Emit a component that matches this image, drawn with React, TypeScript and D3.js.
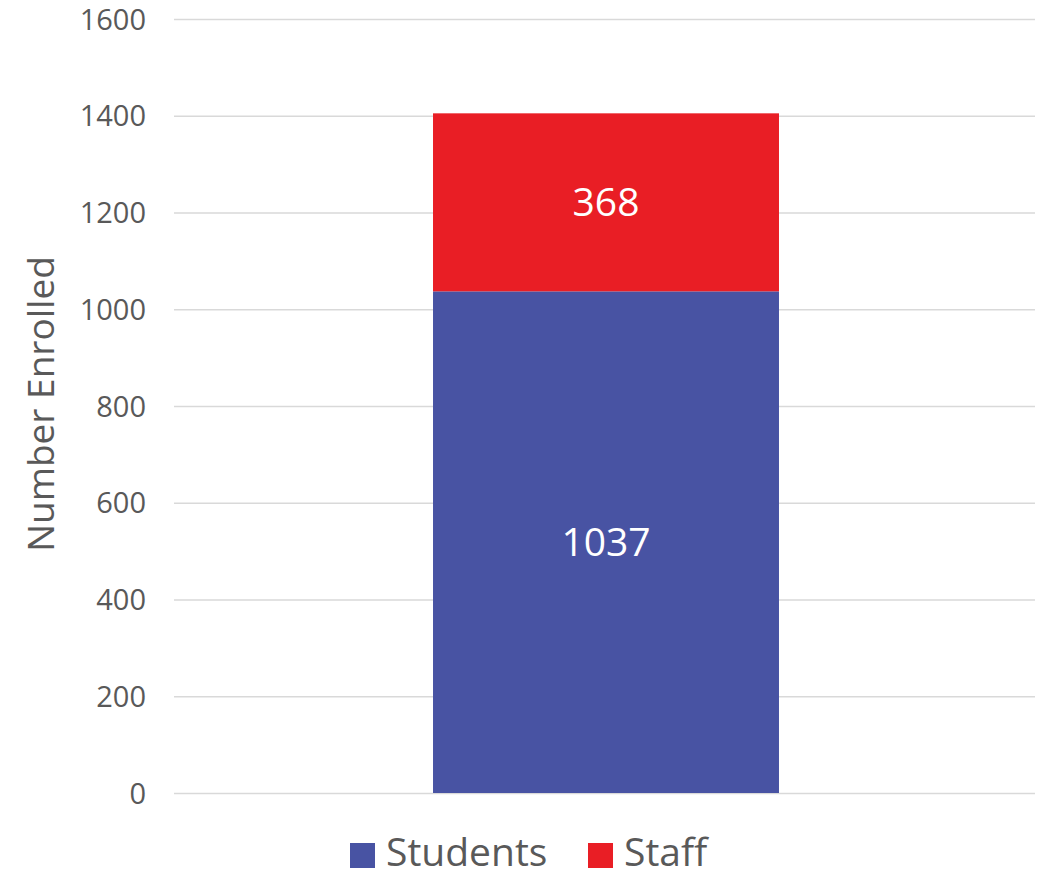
import { useEffect, useRef } from 'react';
import * as d3 from 'd3';

const categories = ['Total'];
const seriesNames = ['Students', 'Staff'];
const studentValues = [1037];
const staffValues = [368];
const seriesColors = ['#4853A3', '#E91E25'];
const yTicks = [0, 200, 400, 600, 800, 1000, 1200, 1400, 1600];
const axisTitle = 'Number Enrolled';

const W = 1046;
const H = 877;
const FONT = '"Open Sans", "Liberation Sans", sans-serif';

export default function App() {
  const ref = useRef<SVGSVGElement>(null);

  useEffect(() => {
    const svg = d3.select(ref.current);
    svg.selectAll('*').remove();

    const margin = { top: 19, right: 11, bottom: 84, left: 174 };
    const width = W - margin.left - margin.right;
    const height = H - margin.top - margin.bottom;

    const g = svg.append('g').attr('transform', `translate(${margin.left},${margin.top})`);

    const x = d3.scaleBand().domain(categories).range([3, width]).paddingInner(0).paddingOuter(0.74);
    const y = d3.scaleLinear().domain([0, 1600]).range([height, 0]);

    // gridlines
    g.append('g')
      .call(d3.axisLeft(y).tickValues(yTicks).tickSize(-width).tickFormat(() => ''))
      .call(a => a.select('.domain').remove())
      .call(a => a.selectAll('.tick line').attr('stroke', '#d9d9d9').attr('stroke-width', 1.5));

    // tick labels
    g.append('g')
      .attr('transform', 'translate(-28,0)')
      .call(d3.axisLeft(y).tickValues(yTicks).tickSize(0).tickPadding(0).tickFormat(d3.format('d')))
      .call(a => a.select('.domain').remove())
      .selectAll('text')
      .style('fill', '#595959').style('font-size', '29px').style('font-family', FONT)
      .attr('dy', '0.35em');

    const stackData = categories.map((c, i) => ({ cat: c, Students: studentValues[i], Staff: staffValues[i] }));
    const stack = d3.stack<any>().keys(seriesNames)(stackData);

    stack.forEach((layer, li) => {
      g.selectAll(`.bar-${li}`).data(layer).enter().append('rect')
        .attr('x', d => x(d.data.cat)!)
        .attr('width', x.bandwidth())
        .attr('y', d => y(d[1]))
        .attr('height', d => y(d[0]) - y(d[1]))
        .attr('fill', seriesColors[li]);

      g.selectAll(`.lbl-${li}`).data(layer).enter().append('text')
        .attr('x', d => x(d.data.cat)! + x.bandwidth() / 2)
        .attr('y', d => (y(d[0]) + y(d[1])) / 2)
        .attr('dy', '0.36em')
        .attr('text-anchor', 'middle')
        .style('fill', '#fff').style('font-size', '39px').style('font-family', FONT)
        .text(d => d[1] - d[0]);
    });

    // axis title
    svg.append('text')
      .attr('transform', `translate(54,${margin.top + height / 2 - 2}) rotate(-90)`)
      .attr('text-anchor', 'middle')
      .style('fill', '#595959').style('font-size', '37px').style('font-family', FONT)
      .text(axisTitle);

    // legend
    const legend = svg.append('g');
    const items = [
      { name: seriesNames[0], color: seriesColors[0], x: 350 },
      { name: seriesNames[1], color: seriesColors[1], x: 588 },
    ];
    items.forEach(it => {
      legend.append('rect').attr('x', it.x).attr('y', 843).attr('width', 25).attr('height', 25).attr('fill', it.color);
      legend.append('text').attr('x', it.x + 36).attr('y', 866)
        .style('fill', '#595959').style('font-size', '39px').style('font-family', FONT)
        .text(it.name);
    });
  }, []);

  return (
    <svg ref={ref} width={W} height={H}
      style={{ position: 'absolute', left: 0, top: 0, background: '#fff' }} />
  );
}
